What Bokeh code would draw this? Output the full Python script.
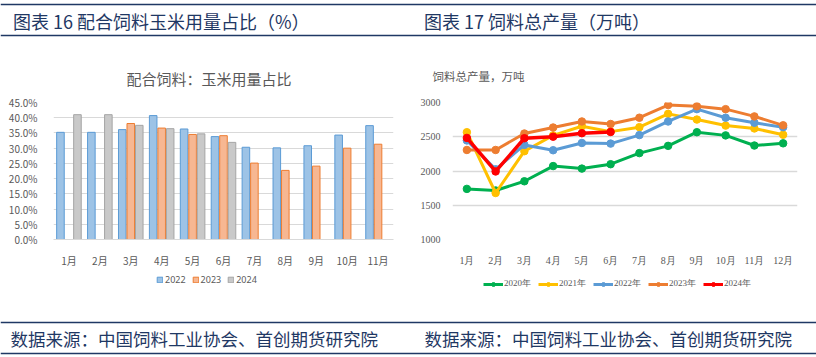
import math
from bokeh.plotting import figure
from bokeh.models import (Range1d, FactorRange, FixedTicker, PrintfTickFormatter,
                          Label, Span, Legend, LegendItem, ColumnDataSource)
from bokeh.layouts import column, row
from bokeh.transform import dodge
from bokeh.embed import file_html
from bokeh.resources import INLINE

NAN = math.nan
NAVY = "#1F3864"
GRAY_TXT = "#595959"
GRID = "#D9D9D9"
CJK = "Noto Sans CJK SC"
SERIF = "Liberation Serif"

# ---------------- data: left chart (share of corn in compound feed, %) -------------
months_l = ["1月", "2月", "3月", "4月", "5月", "6月", "7月", "8月", "9月", "10月", "11月"]
share_2022 = [35.2, 35.2, 36.1, 40.7, 36.3, 33.8, 30.3, 30.1, 30.8, 34.3, 37.4]
share_2023 = [NAN, NAN, 38.1, 36.6, 34.5, 34.1, 25.1, 22.7, 24.1, 30.0, 31.3]
share_2024 = [41.0, 41.0, 37.5, 36.4, 34.7, 31.9, NAN, NAN, NAN, NAN, NAN]
share_ticks = [0, 5, 10, 15, 20, 25, 30, 35, 40, 45]

# ---------------- data: right chart (total feed output, 10k t) ---------------------
months_r = ["1月", "2月", "3月", "4月", "5月", "6月", "7月", "8月", "9月", "10月", "11月", "12月"]
out_2020 = [1739, 1716, 1850, 2072, 2035, 2099, 2261, 2367, 2566, 2520, 2372, 2404]
out_2021 = [2566, 1679, 2289, 2520, 2654, 2575, 2640, 2834, 2751, 2663, 2621, 2529]
out_2022 = [2446, 2025, 2381, 2303, 2409, 2400, 2524, 2723, 2903, 2778, 2704, 2640]
out_2023 = [2307, 2307, 2547, 2635, 2723, 2686, 2778, 2963, 2945, 2903, 2797, 2667]
out_2024 = [2483, 1993, 2478, 2501, 2552, 2570]
out_ticks = [1000, 1500, 2000, 2500, 3000]

bar_styles = [("2022", "#9DC3E6", "#5B9BD5"), ("2023", "#F7B792", "#ED7D31"),
              ("2024", "#C9C9C9", "#A5A5A5")]
line_styles = [("2020年", "#00B050"), ("2021年", "#FFC000"), ("2022年", "#5B9BD5"),
               ("2023年", "#ED7D31"), ("2024年", "#FF0000")]

SOURCE = "数据来源：中国饲料工业协会、首创期货研究院"


def strip(w, h):
    p = figure(width=w, height=h, x_range=Range1d(0, w), y_range=Range1d(h, 0),
               x_axis_type=None, y_axis_type=None, output_backend="svg",
               toolbar_location=None, min_border=0)
    p.grid.visible = False
    p.outline_line_color = None
    return p


def add_text(p, x, y, t, fs, color, align="left", font=CJK):
    p.add_layout(Label(x=x, y=y, text=t, text_baseline="middle", text_align=align,
                       text_font=font, text_font_size=fs, text_color=color))


# ---------------- header: report captions + chart titles ----------------------------
header = strip(816, 90)
for ly in (4, 35):
    header.add_layout(Span(location=ly, dimension="width", line_color=NAVY, line_width=1.5))
add_text(header, 12.5, 20, "图表 16 配合饲料玉米用量占比（%）", "18px", NAVY)
add_text(header, 423.5, 20, "图表 17 饲料总产量（万吨）", "18px", NAVY)
add_text(header, 208.5, 78, "配合饲料：玉米用量占比", "15px", GRAY_TXT, align="center")
add_text(header, 432, 75, "饲料总产量，万吨", "11.5px", GRAY_TXT)

# ---------------- left chart ---------------------------------------------------------
src = ColumnDataSource(dict(month=months_l, y22=share_2022, y23=share_2023, y24=share_2024))
pl = figure(width=410, height=180, x_range=FactorRange(factors=months_l),
            y_range=Range1d(0, 45), output_backend="svg", toolbar_location=None,
            min_border_left=53, min_border_right=17, min_border_top=12, min_border_bottom=25)
pl.outline_line_color = None
pl.xgrid.visible = False
pl.ygrid.grid_line_color = GRID
pl.ygrid.grid_line_width = 1
pl.yaxis.ticker = FixedTicker(ticks=share_ticks)
pl.yaxis.formatter = PrintfTickFormatter(format="%.1f%%")
pl.yaxis.axis_line_color = None
pl.xaxis.axis_line_color = GRID
for ax in (pl.xaxis, pl.yaxis):
    ax.major_tick_line_color = None
    ax.minor_tick_line_color = None
    ax.major_label_text_color = GRAY_TXT
    ax.major_label_text_font = CJK
    ax.major_label_text_font_size = "10px"
pl.yaxis.major_label_standoff = 10
pl.xaxis.major_label_standoff = 7

w = 0.245
for key, off, (name, fc, lc) in zip(["y22", "y23", "y24"], [-0.275, 0.0, 0.275], bar_styles):
    pl.vbar(x=dodge("month", off, range=pl.x_range), top=key, width=w, source=src,
            fill_color=fc, line_color=lc, line_width=1)

# ---------------- right chart --------------------------------------------------------
pr = figure(width=406, height=180, x_range=FactorRange(factors=months_r),
            y_range=Range1d(1000, 3000), output_backend="svg", toolbar_location=None,
            min_border_left=42, min_border_right=19, min_border_top=12, min_border_bottom=25)
pr.outline_line_color = None
pr.xgrid.visible = False
pr.ygrid.grid_line_color = GRID
pr.ygrid.grid_line_width = 1.3
pr.yaxis.ticker = FixedTicker(ticks=out_ticks)
for ax in (pr.xaxis, pr.yaxis):
    ax.axis_line_color = None
    ax.major_tick_line_color = None
    ax.minor_tick_line_color = None
    ax.major_label_text_color = GRAY_TXT
    ax.major_label_text_font = SERIF
    ax.major_label_text_font_size = "10px"
pr.yaxis.major_label_standoff = 6
pr.xaxis.major_label_standoff = 9

for (name, col), vals in zip(line_styles, [out_2020, out_2021, out_2022, out_2023, out_2024]):
    xs = months_r[:len(vals)]
    lw = 3.5 if name == "2024年" else 3
    pr.line(xs, vals, line_color=col, line_width=lw)
    pr.scatter(xs, vals, size=7.5, fill_color=col, line_color=col)

# ---------------- footer: legends + source lines -------------------------------------
footer = strip(816, 87)
for ly in (52, 83):
    footer.add_layout(Span(location=ly, dimension="width", line_color=NAVY, line_width=1.5))
add_text(footer, 10, 68, SOURCE, "17.5px", NAVY)
add_text(footer, 424, 68, SOURCE, "17.5px", NAVY)

l_items = []
for name, fc, lc in bar_styles:
    r = footer.vbar(x=[NAN], top=[NAN], width=1, fill_color=fc, line_color=lc, line_width=1)
    l_items.append(LegendItem(label=name, renderers=[r]))
footer.add_layout(Legend(items=l_items, orientation="horizontal", location=(156, 71),
                         glyph_width=7, glyph_height=7, label_standoff=2, spacing=6,
                         padding=0, margin=0, label_text_font="Noto Sans",
                         label_text_font_size="9px", label_text_color=GRAY_TXT,
                         background_fill_alpha=0, border_line_alpha=0, label_height=10),
                  "center")

r_items = []
for name, col in line_styles:
    lr = footer.line(x=[NAN], y=[NAN], line_color=col, line_width=3)
    sr = footer.scatter(x=[NAN], y=[NAN], size=6, fill_color=col, line_color=col)
    r_items.append(LegendItem(label=name, renderers=[lr, sr]))
footer.add_layout(Legend(items=r_items, orientation="horizontal", location=(483, 67),
                         glyph_width=20, glyph_height=10, label_standoff=1, spacing=7,
                         padding=0, margin=0, label_text_font=SERIF,
                         label_text_font_size="9px", label_text_color=GRAY_TXT,
                         background_fill_alpha=0, border_line_alpha=0, label_height=10),
                  "center")

layout = column(header, row(pl, pr, spacing=0), footer, spacing=0)
open("out.html", "w").write(file_html(layout, INLINE))
